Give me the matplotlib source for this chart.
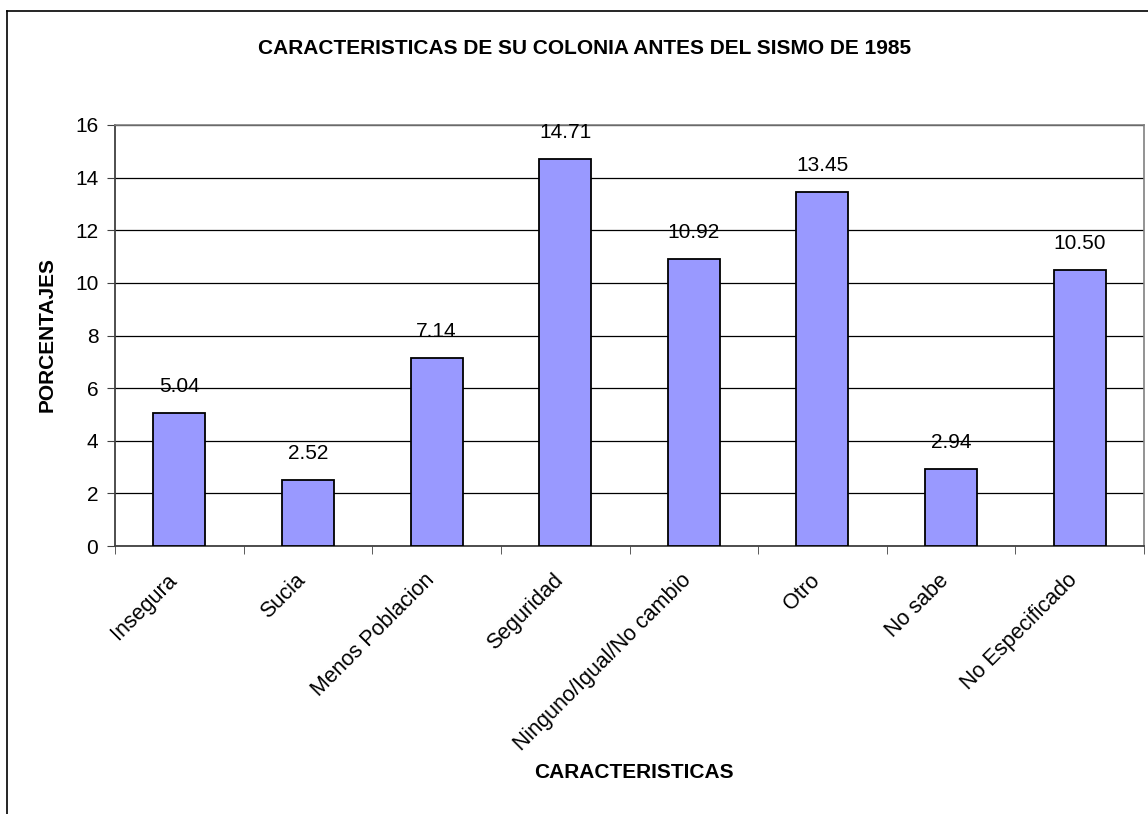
import matplotlib
matplotlib.use("Agg")
import matplotlib.pyplot as plt
from matplotlib.lines import Line2D
from matplotlib.transforms import ScaledTranslation
import numpy as np

categories = ["Insegura", "Sucia", "Menos Poblacion", "Seguridad",
              "Ninguno/Igual/No cambio", "Otro", "No sabe", "No Especificado"]
values = [5.04, 2.52, 7.14, 14.71, 10.92, 13.45, 2.94, 10.50]
yticks = [0, 2, 4, 6, 8, 10, 12, 14, 16]

plt.rcParams['font.family'] = ['Liberation Sans', 'DejaVu Sans']

W, H = 1148, 814
fig = plt.figure(figsize=(W / 100, H / 100), dpi=100)
fig.patch.set_facecolor('white')

# outer chart frame
fig.add_artist(Line2D([7 / W, 1.0], [1 - 11 / H, 1 - 11 / H], color='black', lw=1.2, transform=fig.transFigure))
fig.add_artist(Line2D([7 / W, 7 / W], [0.0, 1 - 11 / H], color='black', lw=1.2, transform=fig.transFigure))

ax = fig.add_axes([115 / W, (H - 546) / H, (1144 - 115) / W, (546 - 125) / H])
x = np.arange(len(categories))
ax.bar(x, values, width=0.405, color='#9999FF', edgecolor='black', linewidth=1.3, zorder=3)

for xi, v in zip(x, values):
    ax.annotate(f"{v:.2f}", (xi, v), xytext=(0, 19), textcoords='offset points',
                ha='center', va='center', fontsize=15)

ax.set_xlim(-0.5, len(categories) - 0.5)
ax.set_ylim(0, 16)
ax.set_yticks(yticks)
ax.set_yticklabels([str(t) for t in yticks], fontsize=15)
ax.yaxis.grid(True, color='black', lw=0.9, zorder=0)
ax.set_axisbelow(True)

ax.set_xticks(x)
ax.set_xticklabels(categories, rotation=45, ha='right', va='top', rotation_mode='anchor', fontsize=15.5)
ax.tick_params(axis='x', which='major', length=0, pad=15)
shift = ScaledTranslation(-0.13, -0.03, fig.dpi_scale_trans)
for lab in ax.get_xticklabels():
    lab.set_transform(lab.get_transform() + shift)
ax.set_xticks(np.arange(-0.5, len(categories)), minor=True)
ax.tick_params(axis='x', which='minor', length=6, direction='out', color='#404040')
ax.tick_params(axis='y', length=6, direction='out', color='#404040', pad=6)

for s in ['top', 'right']:
    ax.spines[s].set_color('#808080')
    ax.spines[s].set_linewidth(1.2)
for s in ['left', 'bottom']:
    ax.spines[s].set_color('#404040')
    ax.spines[s].set_linewidth(1.3)

fig.text(585 / W, 1 - 48 / H, "CARACTERISTICAS DE SU COLONIA ANTES DEL SISMO DE 1985",
         ha='center', va='center', fontsize=15, fontweight='bold')
fig.text(47 / W, 1 - 335 / H, "PORCENTAJES", ha='center', va='center', rotation=90,
         fontsize=15, fontweight='bold')
fig.text(634 / W, 1 - 773 / H, "CARACTERISTICAS", ha='center', va='center',
         fontsize=15, fontweight='bold')

fig.savefig("out.png", dpi=100)
